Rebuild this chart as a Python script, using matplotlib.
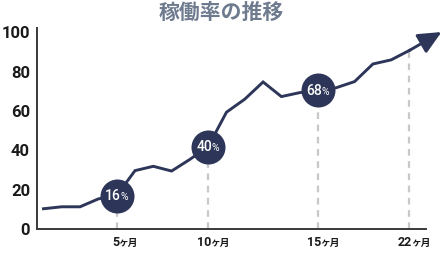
import numpy as np
import matplotlib.pyplot as plt

# data
months = [1, 2, 3, 4, 5, 6, 7, 8, 9, 10, 11, 12, 13, 14, 15, 16, 17, 18, 19, 20, 21]
rate = [10.5, 11.5, 11.5, 15.5, 17.2, 29.8, 32, 29.6, 35.5, 42, 59.4, 66, 74.7, 67.3, 69.3, 70.4, 71.8, 74.9, 83.8, 85.9, 90.7]
arrow_tip = (22.75, 100)

badge_months = [5, 10, 16]
badge_labels = ['16', '40', '68']

tick_months = [5, 10, 16, 21]
tick_labels = ['5', '10', '15', '22']

yticks = [0, 20, 40, 60, 80, 100]

navy = '#2d3658'
grey = '#c8c8c8'

plt.rcParams['font.family'] = ['Roboto', 'Noto Sans CJK JP', 'DejaVu Sans']

fig = plt.figure(figsize=(4.42, 2.54), dpi=100)
ax = fig.add_axes([0.0837, 0.0965, 0.880, 0.793])

x = np.array(months)
y = np.array(rate)

# dashed guides under the labelled points
for m in tick_months:
    ax.plot([m, m], [0, y[months.index(m)]], color=grey, lw=1.6, ls=(0, (3, 2.5)), zorder=1)

ax.plot(x, y, color=navy, lw=2.1, solid_joinstyle='miter', zorder=2)
ax.annotate('', xy=arrow_tip, xytext=(x[-1], y[-1]),
            arrowprops=dict(arrowstyle='-|>,head_length=1.4,head_width=0.65', color=navy, lw=2.1,
                            shrinkA=0, shrinkB=0),
            annotation_clip=False, zorder=3)

# round badges
bx = np.array(badge_months)
by = np.array([rate[months.index(m)] for m in badge_months])
ax.scatter(bx, by, s=600, color=navy, zorder=4, linewidths=0)
for px, py, lab in zip(bx, by, badge_labels):
    ax.annotate(lab, (px, py), xytext=(3, -0.5), textcoords='offset points', ha='right', va='center',
                color='white', fontsize=10, fontweight='medium', zorder=5)
    ax.annotate('%', (px, py), xytext=(2.6, -1.2), textcoords='offset points', ha='left', va='center',
                color='white', fontsize=7.5, zorder=5)

ax.set_xlim(0.645, 21.9)
ax.set_ylim(0, 102)
ax.set_yticks(yticks)
ax.set_yticklabels([str(v) for v in yticks], fontsize=12, fontweight='bold', color='#1a1a1a')
ax.set_xticks(tick_months)
ax.set_xticklabels([])
for m, lab in zip(tick_months, tick_labels):
    ax.annotate(lab, (m, 0), xytext=(2, -9.5), textcoords='offset points', ha='right', va='center',
                fontsize=9, fontweight='bold', color='#1a1a1a', annotation_clip=False)
    ax.annotate('ヶ月', (m, 0), xytext=(1.2, -10), textcoords='offset points', ha='left', va='center',
                fontsize=7, fontweight='bold', color='#1a1a1a', annotation_clip=False,
                family=['Noto Sans CJK JP', 'DejaVu Sans'])
ax.tick_params(length=0, pad=5)

for s in ['top', 'right']:
    ax.spines[s].set_visible(False)
for s in ['left', 'bottom']:
    ax.spines[s].set_color('#3a3a3a')
    ax.spines[s].set_linewidth(1.4)

fig.text(0.5, 0.95, '稼働率の推移', ha='center', va='center', fontsize=15, fontweight='bold',
         color='#6e7b8f', family=['Noto Sans CJK JP', 'DejaVu Sans'])

fig.savefig('out.png', dpi=100)
